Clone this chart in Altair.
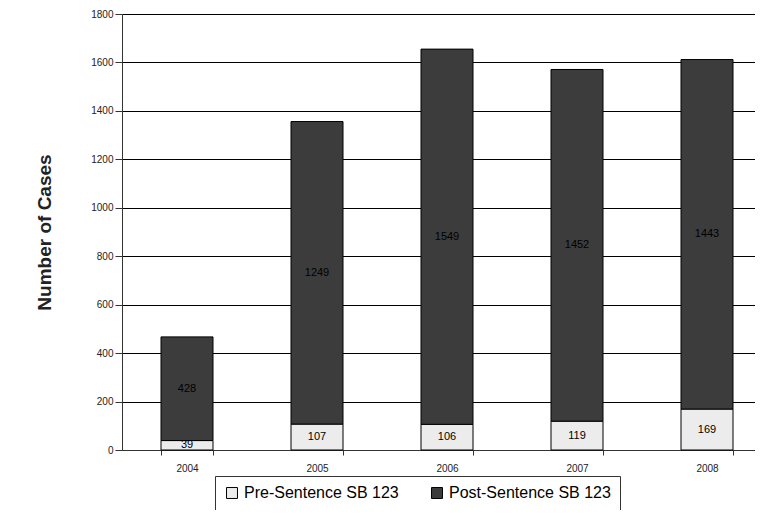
import altair as alt
import pandas as pd

years = ["2004", "2005", "2006", "2007", "2008"]
pre = [39, 107, 106, 119, 169]
post = [428, 1249, 1549, 1452, 1443]
series = ["Pre-Sentence SB 123", "Post-Sentence SB 123"]

rows = []
for y, a, b in zip(years, pre, post):
    rows.append({"year": y, "series": series[0], "value": a, "order": 0, "mid": a / 2})
    rows.append({"year": y, "series": series[1], "value": b, "order": 1, "mid": a + b / 2})
df = pd.DataFrame(rows)

FONT = "Liberation Sans"
xscale = alt.Scale(range=[0, 650], paddingInner=0.6, paddingOuter=0.3)

x = alt.X("year:N", title=None, scale=xscale,
          axis=alt.Axis(labelAngle=0, labelFontSize=10, labelFont=FONT, labelColor="#222",
                        tickBand="extent", tickSize=5, tickColor="#333",
                        domainColor="#333", labelPadding=8))

bars = alt.Chart(df).mark_bar(stroke="black", strokeWidth=1).encode(
    x=x,
    y=alt.Y("value:Q", stack="zero", title="Number of Cases",
            scale=alt.Scale(domain=[0, 1800]),
            axis=alt.Axis(values=list(range(0, 1801, 200)), format="d", labelFontSize=10,
                          labelFont=FONT, labelColor="#222", tickSize=7, tickColor="#333",
                          domainColor="#333", gridColor="black", gridWidth=1, titleFont=FONT,
                          titleFontSize=19, titleFontWeight="bold", titleColor="#222",
                          titlePadding=36)),
    color=alt.Color("series:N", sort=series,
                    scale=alt.Scale(domain=series, range=["#ececec", "#3c3c3c"]),
                    legend=alt.Legend(title=None, orient="none", legendX=93, legendY=462,
                                      direction="horizontal", labelFont=FONT, labelFontSize=16,
                                      labelColor="black", symbolType="square", symbolSize=120,
                                      symbolStrokeColor="black", symbolStrokeWidth=1,
                                      columnPadding=30, strokeColor="#333", padding=9,
                                      labelLimit=300)),
    order=alt.Order("order:Q"),
)

labels = alt.Chart(df).mark_text(font=FONT, fontSize=11, color="black").encode(
    x=alt.X("year:N", scale=xscale),
    y=alt.Y("mid:Q"),
    text=alt.Text("value:Q"),
)

chart = alt.layer(bars, labels).properties(
    width=633, height=436,
    autosize=alt.AutoSizeParams(type="none"),
    padding={"left": 114, "top": 6, "right": 0, "bottom": 60},
).configure_view(fill="#ebebeb", stroke="#999", strokeWidth=1).configure(background="white")

chart.save("out.html", embed_options={"renderer": "svg", "actions": False})
